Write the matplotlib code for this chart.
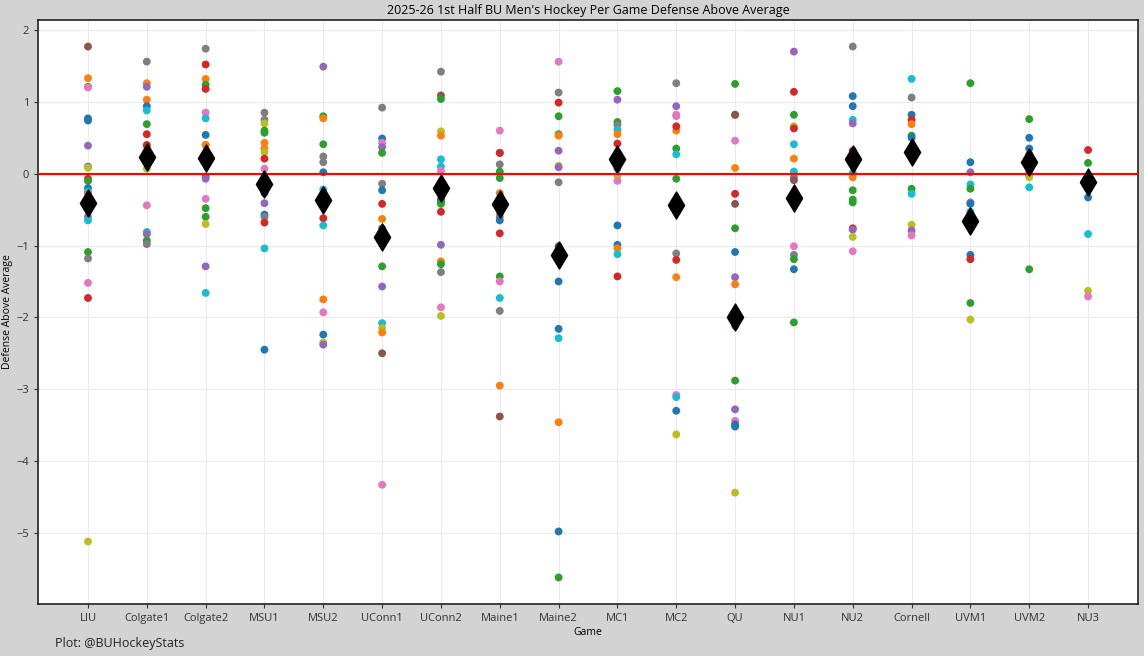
import numpy as np
import matplotlib
matplotlib.use("Agg")
import matplotlib.pyplot as plt

plt.rcParams['font.family'] = ['Open Sans', 'DejaVu Sans']

games = ['LIU', 'Colgate1', 'Colgate2', 'MSU1', 'MSU2', 'UConn1', 'UConn2', 'Maine1',
         'Maine2', 'MC1', 'MC2', 'QU', 'NU1', 'NU2', 'Cornell', 'UVM1', 'UVM2', 'NU3']

# per game player values, and colour index (tab10) of each point
liu = [1.77, 1.33, 1.21, 1.20, 0.77, 0.74, 0.39, 0.10, 0.08, -0.07, -0.10, -0.20, -0.25,
       -0.28, -0.60, -0.65, -1.09, -1.18, -1.52, -1.73, -5.12]
liu_c = [5, 1, 2, 6, 0, 0, 4, 7, 8, 3, 2, 0, 9, 1, 4, 9, 2, 7, 6, 3, 8]
colgate1 = [1.56, 1.26, 1.21, 1.03, 0.94, 0.88, 0.69, 0.55, 0.38, 0.40, 0.07, -0.44, -0.81,
            -0.84, -0.93, -0.98]
colgate1_c = [7, 1, 4, 1, 0, 9, 2, 3, 1, 3, 8, 6, 9, 4, 2, 7]
colgate2 = [1.74, 1.52, 1.32, 1.24, 1.18, 0.85, 0.77, 0.54, 0.40, 0.40, -0.04, -0.07, -0.35,
            -0.48, -0.60, -0.70, -1.29, -1.66]
colgate2_c = [7, 3, 1, 2, 3, 6, 9, 0, 7, 1, 0, 4, 6, 2, 2, 8, 4, 9]
msu1 = [0.85, 0.75, 0.70, 0.60, 0.57, 0.43, 0.35, 0.30, 0.21, 0.07, -0.27, -0.41, -0.57,
        -0.60, -0.68, -1.04, -2.45]
msu1_c = [7, 7, 8, 2, 2, 1, 1, 8, 3, 6, 0, 4, 0, 7, 3, 9, 0]
msu2 = [1.49, 0.80, 0.77, 0.41, 0.24, 0.16, 0.02, -0.22, -0.62, -0.72, -1.75, -1.93, -2.24,
        -2.35, -2.38]
msu2_c = [4, 2, 1, 2, 7, 7, 0, 9, 3, 9, 1, 6, 0, 8, 4]
uconn1 = [0.92, 0.49, 0.43, 0.37, 0.29, -0.14, -0.23, -0.42, -0.63, -0.76, -1.29, -1.57,
          -2.08, -2.15, -2.21, -2.50, -4.33]
uconn1_c = [7, 0, 6, 4, 2, 7, 0, 3, 1, 2, 2, 4, 9, 8, 1, 5, 6]
uconn2 = [1.42, 1.09, 1.04, 0.59, 0.53, 0.20, 0.10, 0.04, -0.36, -0.39, -0.42, -0.53, -0.99,
          -1.22, -1.26, -1.37, -1.86, -1.98]
uconn2_c = [7, 5, 2, 8, 1, 9, 9, 6, 3, 0, 2, 3, 4, 1, 2, 7, 6, 8]
maine1 = [0.60, 0.29, 0.29, 0.13, 0.03, -0.06, -0.27, -0.56, -0.60, -0.65, -0.83, -1.43,
          -1.50, -1.73, -1.91, -2.95, -3.38]
maine1_c = [6, 0, 3, 7, 2, 2, 1, 8, 4, 0, 3, 2, 6, 9, 7, 1, 5]
maine2 = [1.56, 1.13, 0.99, 0.80, 0.55, 0.53, 0.32, 0.11, 0.09, -0.12, -1.01, -1.50, -2.16,
          -2.29, -3.46, -4.98, -5.62]
maine2_c = [6, 7, 3, 2, 2, 1, 4, 8, 4, 7, 5, 0, 0, 9, 1, 0, 2]
mc1 = [1.15, 1.03, 0.72, 0.68, 0.61, 0.55, 0.42, 0.07, -0.03, -0.10, -0.72, -0.99, -1.04,
       -1.12, -1.43]
mc1_c = [2, 4, 2, 7, 9, 1, 3, 4, 8, 6, 0, 0, 1, 9, 3]
mc2 = [1.26, 0.94, 0.82, 0.80, 0.60, 0.66, 0.35, 0.27, -0.07, -0.53, -1.11, -1.20, -1.44,
       -3.08, -3.11, -3.30, -3.63]
mc2_c = [7, 4, 6, 6, 1, 3, 2, 9, 2, 2, 7, 3, 1, 6, 9, 0, 8]
qu = [1.25, 0.82, 0.82, 0.46, 0.08, -0.28, -0.42, -0.76, -1.09, -1.44, -1.54, -2.12, -2.88,
      -3.28, -3.44, -3.49, -3.52, -4.44]
qu_c = [2, 7, 5, 6, 1, 3, 5, 2, 0, 4, 1, 9, 2, 4, 6, 0, 0, 8]
nu1 = [1.70, 1.14, 0.82, 0.66, 0.63, 0.41, 0.21, 0.03, -0.05, -0.09, -1.01, -1.13, -1.19,
       -1.33, -2.07]
nu1_c = [4, 3, 2, 8, 3, 9, 1, 9, 4, 5, 6, 7, 2, 0, 2]
nu2 = [1.77, 1.08, 0.94, 0.75, 0.70, 0.32, 0.01, -0.05, -0.23, -0.36, -0.40, -0.76, -0.78,
       -0.88, -1.08]
nu2_c = [7, 0, 0, 9, 4, 3, 9, 1, 2, 2, 2, 3, 4, 8, 6]
cornell = [1.32, 1.06, 0.82, 0.75, 0.69, 0.53, 0.50, -0.21, -0.28, -0.71, -0.79, -0.86]
cornell_c = [9, 7, 0, 3, 1, 2, 0, 2, 9, 8, 4, 6]
uvm1 = [1.26, 0.16, 0.02, -0.15, -0.21, -0.40, -0.42, -0.53, -1.13, -1.19, -1.80, -2.03]
uvm1_c = [2, 0, 4, 9, 2, 4, 0, 9, 0, 3, 2, 8]
uvm2 = [0.76, 0.50, 0.35, 0.27, 0.03, -0.02, -0.05, -0.19, -1.33]
uvm2_c = [2, 0, 0, 4, 6, 0, 8, 9, 2]
nu3 = [0.33, 0.15, -0.33, -0.84, -1.63, -1.71]
nu3_c = [3, 2, 0, 9, 8, 6]

# game averages (black diamonds)
game_avg = [-0.41, 0.23, 0.22, -0.14, -0.37, -0.88, -0.20, -0.42, -1.13, 0.21, -0.43,
            -2.00, -0.34, 0.21, 0.30, -0.66, 0.16, -0.12]

vals = [liu, colgate1, colgate2, msu1, msu2, uconn1, uconn2, maine1, maine2, mc1, mc2,
        qu, nu1, nu2, cornell, uvm1, uvm2, nu3]
cols = [liu_c, colgate1_c, colgate2_c, msu1_c, msu2_c, uconn1_c, uconn2_c, maine1_c,
        maine2_c, mc1_c, mc2_c, qu_c, nu1_c, nu2_c, cornell_c, uvm1_c, uvm2_c, nu3_c]

tab = plt.get_cmap('tab10').colors

fig, ax = plt.subplots(figsize=(11.44, 6.56), dpi=100)
fig.patch.set_facecolor('lightgray')
fig.subplots_adjust(left=0.0332, right=0.9948, top=0.9695, bottom=0.0793)

for i, (v, c) in enumerate(zip(vals, cols)):
    ax.scatter([games[i]] * len(v), v, c=[tab[k] for k in c], s=32, zorder=2,
               linewidths=0)

ax.axhline(0, color='red', lw=1.6, zorder=3)
ax.scatter(games, game_avg, marker='d', s=190, color='black', zorder=4)

ax.grid(True, color='#ebebeb', lw=0.8, zorder=0)
ax.set_axisbelow(True)
for s in ax.spines.values():
    s.set_color('#222222')
    s.set_linewidth(1.2)
ax.tick_params(labelsize=8, colors='#333333', length=3)
ax.set_title("2025-26 1st Half BU Men's Hockey Per Game Defense Above Average",
             fontsize=9, pad=4)
ax.set_xlabel('Game', fontsize=7.5, labelpad=2)
ax.set_ylabel('Defense Above Average', fontsize=7.5, labelpad=2)
fig.text(0.048, 0.013, 'Plot: @BUHockeyStats', fontsize=9, color='#222222')

fig.savefig('out.png', facecolor=fig.get_facecolor())
